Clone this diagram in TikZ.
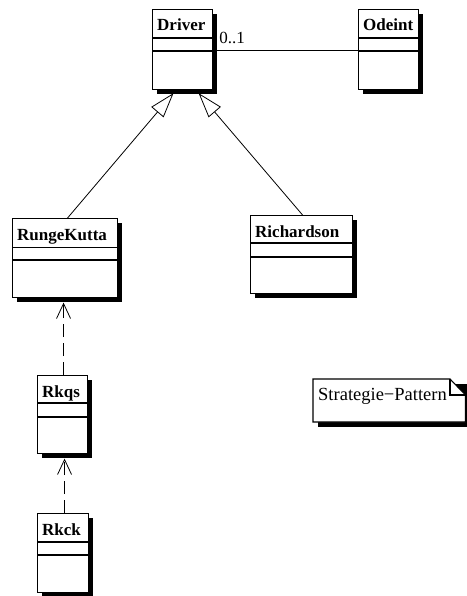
\documentclass[tikz,border=0pt]{standalone}
\usepackage{fontspec}
\setmainfont{Liberation Serif}
\usetikzlibrary{arrows.meta,shadows}

% one UML class: name, x, y, width, height, first separator, second separator, title
\newcommand\umlclass[8]{%
  \node[classbox, minimum width=#4pt, minimum height=#5pt] (#1) at (#2,#3) {};
  \draw[compline] ([yshift=-#6pt]#1.north west) -- ([yshift=-#6pt]#1.north east);
  \draw[compline] ([yshift=-#7pt]#1.north west) -- ([yshift=-#7pt]#1.north east);
  \node[classname] (#1-name) at ([xshift=5pt,yshift=-22pt]#1.north west) {#8};
}

\begin{document}
\begin{tikzpicture}[x=1pt,y=-1pt,
  classbox/.style={draw, line width=1.1pt, fill=white, rectangle, inner sep=0pt,
    anchor=north west,
    drop shadow={shadow xshift=4.5pt, shadow yshift=-4.5pt, fill=black, opacity=1}},
  classname/.style={anchor=base west, inner sep=0pt,
    font=\fontsize{17}{20}\selectfont\bfseries},
  plaintext/.style={anchor=base west, inner sep=0pt,
    font=\fontsize{17}{20}\selectfont},
  compline/.style={line width=1.1pt},
  assoc/.style={line width=0.8pt},
  inherit/.style={line width=0.8pt,
    -{Triangle[open, length=25pt, width=16pt, line width=0.8pt]}},
  depend/.style={line width=0.8pt, dash pattern=on 13pt off 6pt,
    -{Straight Barb[length=15pt, width=14pt, line width=0.8pt]}},
]
\useasboundingbox (0,0) rectangle (466,596);

% classes
\umlclass{drv}{152}{9}{60}{80}{29}{42}{Driver}
\umlclass{ode}{358}{9}{60}{80}{29}{42}{Odeint}
\umlclass{rk}{12}{218}{105}{79}{29.5}{42}{RungeKutta}
\umlclass{rich}{250}{215}{102}{78}{28}{42}{Richardson}
\umlclass{rkqs}{37}{375}{50}{78}{28}{42}{Rkqs}
\umlclass{rkck}{37}{513}{51}{79}{29}{42}{Rkck}

% association Driver -- Odeint
\draw[assoc] ([yshift=-41.5pt]drv.north east) -- ([yshift=-41.5pt]ode.north west);
\node[plaintext] (mult) at ([xshift=6pt,yshift=-35pt]drv.north east) {0..1};

% generalisations
\draw[inherit] ([xshift=2.5pt]rk.north) -- ([xshift=-9pt,yshift=-3pt]drv.south);
\draw[inherit] ([xshift=1pt]rich.north) -- ([xshift=16pt,yshift=-3pt]drv.south);

% dependencies
\draw[depend] ([xshift=1pt]rkqs.north) -- ([xshift=-1.5pt,yshift=-4.5pt]rk.south);
\draw[depend] ([xshift=1.5pt]rkck.north) -- ([xshift=2pt,yshift=-4.5pt]rkqs.south);

% note with folded corner
\fill[black] (317.5,383.5) -- (470,383.5) -- (470,426.5) -- (317.5,426.5) -- cycle;
\draw[line width=1.1pt, fill=white] (313,379) -- (450,379) -- (465.5,395)
  -- (465.5,422) -- (313,422) -- cycle;
\draw[line width=1.1pt] (450,379) -- (450,395) -- (465.5,395);
\node[plaintext, font=\fontsize{18.5}{22}\selectfont] (note) at (318,400.7)
  {Strategie\char"2212 Pattern};
\end{tikzpicture}
\end{document}
